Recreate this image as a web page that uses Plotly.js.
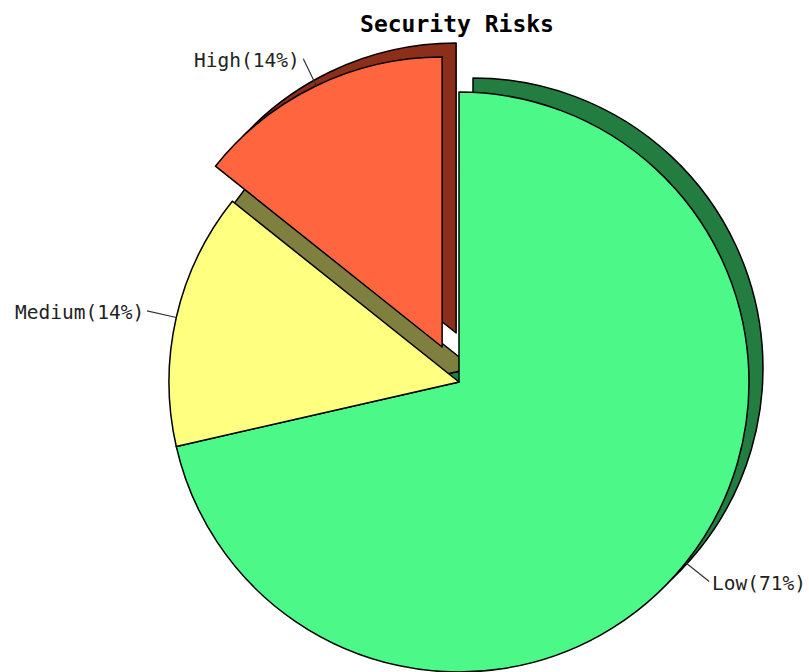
<!DOCTYPE html>
<html>
<head>
<meta charset="utf-8">
<script src="https://cdn.plot.ly/plotly-3.0.1.min.js"></script>
<style>
html, body { margin: 0; padding: 0; overflow: hidden; background: #ffffff; }
#chart { width: 809px; height: 672px; }
</style>
</head>
<body>
<div id="chart"></div>
<script>
// ---- data ----
var categories = ['Low', 'Medium', 'High'];
var counts = [5, 1, 1];
var explode = [0, 0, 0.134];
var faceColors = ['#4cf888', '#ffff80', '#ff6640'];
var shadowColors = ['#237c40', '#7f7f40', '#8b2e1a'];
var chartTitle = 'Security Risks';

// ---- geometry (layout only) ----
var W = 809, H = 672;
var CX = 459, CY = 382, R = 290;
var SHADOW_DX = 14, SHADOW_DY = -14;
var LEADER = 30;
var FONT = 'DejaVu Sans Mono, Liberation Mono, monospace';

var total = counts.reduce(function (a, b) { return a + b; }, 0);
var midAngles = [];
(function () {
  var cum = 0;
  for (var i = 0; i < counts.length; i++) {
    midAngles.push(2 * Math.PI * (cum + counts[i] / 2) / total);
    cum += counts[i];
  }
})();

function domainFor(cx, cy, r) {
  return {
    x: [(cx - r) / W, (cx + r) / W],
    y: [1 - (cy + r) / H, 1 - (cy - r) / H]
  };
}

function pieTrace(visibleMask, colors, cx, cy) {
  return {
    type: 'pie',
    labels: categories,
    values: counts,
    sort: false,
    direction: 'clockwise',
    rotation: 0,
    textinfo: 'none',
    hoverinfo: 'none',
    showlegend: false,
    domain: domainFor(cx, cy, R),
    marker: {
      colors: colors.map(function (c, i) { return visibleMask[i] ? c : 'rgba(0,0,0,0)'; }),
      line: {
        color: '#000000',
        width: visibleMask.map(function (v) { return v ? 1.5 : 0; })
      }
    }
  };
}

var traces = [];
var shapes = [];
var annotations = [];

// unpulled slices share one trace, each pulled slice gets its own
var groups = [];
var mainMask = explode.map(function (p) { return p === 0; });
groups.push({ mask: mainMask, dx: 0, dy: 0 });
explode.forEach(function (p, i) {
  if (p > 0) {
    var mask = explode.map(function (_, j) { return j === i; });
    groups.push({
      mask: mask,
      dx: Math.sin(midAngles[i]) * p * R,
      dy: -Math.cos(midAngles[i]) * p * R
    });
  }
});

// shadows first
groups.forEach(function (g) {
  traces.push(pieTrace(g.mask, shadowColors, CX + g.dx + SHADOW_DX, CY + g.dy + SHADOW_DY));
});
// faces
groups.forEach(function (g) {
  traces.push(pieTrace(g.mask, faceColors, CX + g.dx, CY + g.dy));
});

// labels with leader lines
categories.forEach(function (cat, i) {
  var th = midAngles[i];
  var ux = Math.sin(th), uy = -Math.cos(th);
  var pcx = CX + ux * explode[i] * R, pcy = CY + uy * explode[i] * R;
  var px = pcx + ux * R, py = pcy + uy * R;
  var ex = px + ux * LEADER, ey = py + uy * LEADER;
  shapes.push({
    type: 'line', xref: 'paper', yref: 'paper',
    x0: px / W, y0: 1 - py / H, x1: ex / W, y1: 1 - ey / H,
    line: { color: '#333333', width: 1.2 }
  });
  var pct = Math.round(100 * counts[i] / total);
  annotations.push({
    xref: 'paper', yref: 'paper',
    x: (ex + (ux >= 0 ? 1 : -1)) / W, y: 1 - (ey + 2) / H,
    xanchor: ux >= 0 ? 'left' : 'right', yanchor: 'middle',
    text: cat + '(' + pct + '%)',
    showarrow: false,
    font: { family: FONT, size: 19.5, color: '#222222' }
  });
});

var layout = {
  width: W, height: H,
  margin: { l: 0, r: 0, t: 0, b: 0, pad: 0 },
  paper_bgcolor: '#ffffff',
  plot_bgcolor: '#ffffff',
  showlegend: false,
  title: {
    text: chartTitle,
    x: 457 / W, xanchor: 'center', xref: 'paper',
    y: 1 - 24 / H, yanchor: 'middle', yref: 'container',
    font: { family: FONT, size: 23, color: '#000000', weight: 'bold' }
  },
  shapes: shapes,
  annotations: annotations
};

Plotly.newPlot('chart', traces, layout, { staticPlot: true, displayModeBar: false });
</script>
</body>
</html>
